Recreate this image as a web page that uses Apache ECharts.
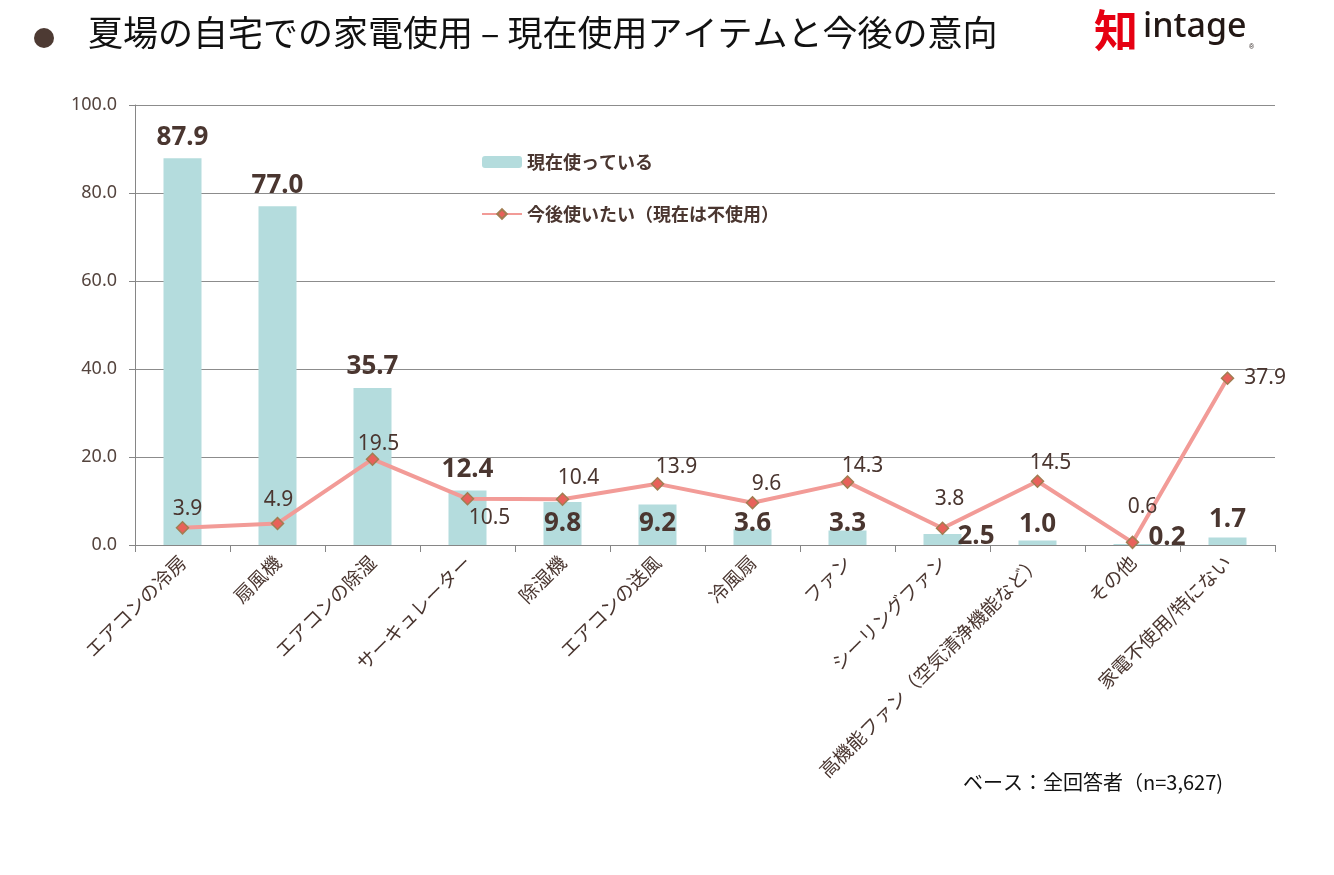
<!DOCTYPE html>
<html>
<head>
<meta charset="utf-8">
<script src="https://cdn.jsdelivr.net/npm/echarts@6/dist/echarts.min.js"></script>
<style>
html, body {margin:0; padding:0; background:#fff;}
#main {width:1334px; height:875px;}
</style>
</head>
<body>
<div id="main"></div>
<script>
var app = echarts.init(document.getElementById('main'));

var categories = ['エアコンの冷房','扇風機','エアコンの除湿','サーキュレーター','除湿機','エアコンの送風','冷風扇','ファン','シーリングファン','高機能ファン（空気清浄機能など）','その他','家電不使用/特にない'];
var nowUsing = [87.9, 77.0, 35.7, 12.4, 9.8, 9.2, 3.6, 3.3, 2.5, 1.0, 0.2, 1.7];
var wantToUse = [3.9, 4.9, 19.5, 10.5, 10.4, 13.9, 9.6, 14.3, 3.8, 14.5, 0.6, 37.9];
var seriesNames = ['現在使っている', '今後使いたい（現在は不使用）'];
var yTicks = {min: 0, max: 100, interval: 20};

var brown = '#4a3630';
var numFont = "'Noto Sans', 'Noto Sans CJK JP', sans-serif";
var jpFont = "'Noto Sans CJK JP', sans-serif";

// label placement per bar (how Excel had them)
var barLabelPos = [
  {position:'top', distance:8}, {position:'top', distance:8}, {position:'top', distance:8}, {position:'top', distance:8},
  {position:'insideBottom', distance:8}, {position:'insideBottom', distance:8}, {position:'insideBottom', distance:8}, {position:'insideBottom', distance:8},
  {position:'right', distance:-4, offset:[0,-3]}, {position:'top', distance:3}, {position:'right', distance:-3, offset:[0,-7]}, {position:'top', distance:5}
];
var lineLabelPos = [
  {position:'top', offset:[5,3]}, {position:'top', offset:[1,-1]}, {position:'top', offset:[6,7]}, {position:'bottom', offset:[22,-3]},
  {position:'top', offset:[16,1]}, {position:'top', offset:[19,5]}, {position:'top', offset:[14,4]}, {position:'top', offset:[15,6]},
  {position:'top', offset:[7,-7]}, {position:'top', offset:[13,4]}, {position:'top', offset:[10,-13]}, {position:'right', distance:10}
];

option = {
    animation: false,
    textStyle: {fontFamily: numFont},
    grid: {left: 135, right: 59, top: 105, bottom: 330},
    legend: {
        orient: 'vertical',
        left: 476,
        top: 148,
        itemWidth: 40,
        itemHeight: 12,
        itemGap: 34,
        selectedMode: false,
        textStyle: {fontFamily: jpFont, fontSize: 18, fontWeight: 'bold', color: brown},
        data: seriesNames
    },
    xAxis: {
        type: 'category',
        data: categories,
        axisLine: {lineStyle: {color: '#868686', width: 1}},
        axisTick: {show: true, length: 7, lineStyle: {color: '#868686'}},
        axisLabel: {
            interval: 0,
            rotate: 45,
            margin: 14,
            fontFamily: jpFont,
            fontSize: 19,
            color: brown
        }
    },
    yAxis: {
        type: 'value',
        min: yTicks.min,
        max: yTicks.max,
        interval: yTicks.interval,
        axisLine: {show: true, lineStyle: {color: '#868686'}},
        axisTick: {show: true, length: 6, lineStyle: {color: '#868686'}},
        splitLine: {lineStyle: {color: '#8c8c8c', width: 1}},
        axisLabel: {
            margin: 18,
            fontSize: 18,
            color: '#54443e',
            formatter: function (v) { return v.toFixed(1); }
        }
    },
    series: [
        {
            name: seriesNames[0],
            type: 'bar',
            barWidth: 38,
            itemStyle: {color: '#b4dcdd'},
            data: nowUsing.map(function (v, i) {
                return {value: v, label: barLabelPos[i]};
            }),
            label: {
                show: true,
                fontSize: 26,
                fontWeight: 'bold',
                color: brown,
                formatter: function (p) { return p.value.toFixed(1); }
            },
            z: 2
        },
        {
            name: seriesNames[1],
            type: 'line',
            symbol: 'diamond',
            symbolSize: 12,
            lineStyle: {color: '#f29b97', width: 4},
            itemStyle: {color: '#e8615a', borderColor: '#a27d52', borderWidth: 1.5},
            data: wantToUse.map(function (v, i) {
                return {value: v, label: lineLabelPos[i]};
            }),
            label: {
                show: true,
                fontSize: 21,
                color: brown,
                formatter: function (p) { return p.value.toFixed(1); }
            },
            z: 3
        }
    ],
    graphic: [
        {type: 'circle', shape: {cx: 44, cy: 38, r: 10}, style: {fill: '#4d3a33'}},
        {type: 'text', left: 88, top: 15, style: {text: '夏場の自宅での家電使用 – 現在使用アイテムと今後の意向', font: "35px 'Noto Sans CJK JP', sans-serif", fill: '#111'}},
        {type: 'text', left: 1094, top: 8, style: {text: '知', font: "bold 44px 'Noto Sans CJK JP', sans-serif", fill: '#e60012'}},
        {type: 'text', left: 1143, top: 10, style: {text: 'intage', font: "500 34px 'Noto Sans', sans-serif", fill: '#231815'}},
        {type: 'text', left: 1249, top: 44, style: {text: '®', font: "7px sans-serif", fill: '#231815'}},
        {type: 'text', left: 963, top: 772, style: {text: 'ベース：全回答者（n=3,627)', font: "20px 'Noto Sans CJK JP', sans-serif", fill: '#111'}}
    ]
};

app.setOption(option);
</script>
</body>
</html>
